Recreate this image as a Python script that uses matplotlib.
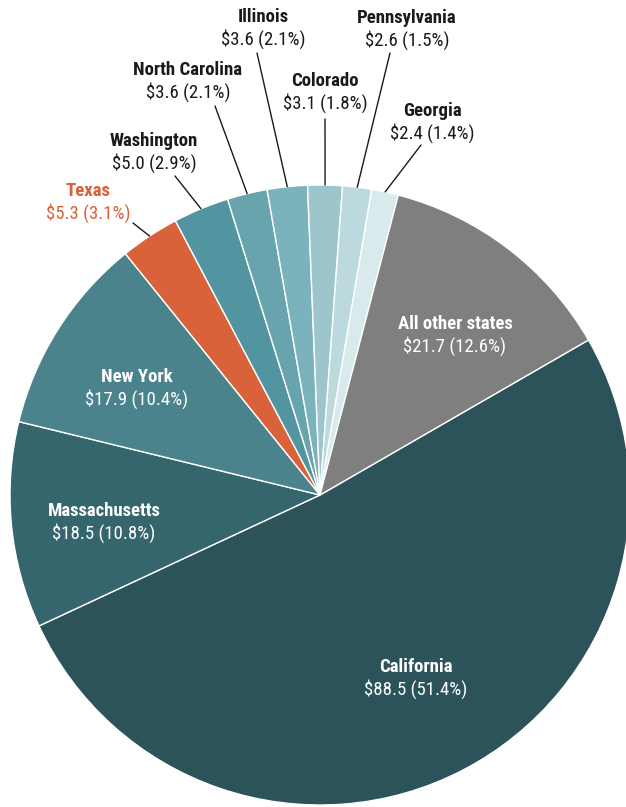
import matplotlib.pyplot as plt
from matplotlib import font_manager
import numpy as np

# Data (billions of dollars, share of total)
states = ['California', 'Massachusetts', 'New York', 'Texas', 'Washington',
          'North Carolina', 'Illinois', 'Colorado', 'Pennsylvania', 'Georgia',
          'All other states']
values = [88.5, 18.5, 17.9, 5.3, 5.0, 3.6, 3.6, 3.1, 2.6, 2.4, 21.7]
shares = [51.4, 10.8, 10.4, 3.1, 2.9, 2.1, 2.1, 1.8, 1.5, 1.4, 12.6]
colors = ['#2c535a', '#36666d', '#4a838b', '#d9623a', '#5294a0', '#68a4ae',
          '#7ab3bc', '#9cc6cc', '#bcdade', '#d9eaed', '#7f7f7f']

# pick a narrow font if there is one
installed = {f.name for f in font_manager.fontManager.ttflist}
family = 'Roboto'
for cand in ['Roboto Condensed', 'Liberation Sans Narrow', 'Roboto']:
    if cand in installed:
        family = cand
        break
plt.rcParams['font.family'] = [family, 'DejaVu Sans']

W, H = 626, 807
CX, CY, R = 320, 495, 310  # pie centre and radius in pixels


def px(x, y):
    # pixel position -> data position
    return (x - CX) / R, (CY - y) / R


fig = plt.figure(figsize=(W / 100, H / 100), dpi=100)
ax = fig.add_axes([0, 0, 1, 1])
wedges, _ = ax.pie(values, colors=colors, startangle=30, counterclock=False,
                   radius=1, wedgeprops=dict(edgecolor='white', linewidth=1))
ax.set_xlim(-CX / R, (W - CX) / R)
ax.set_ylim(-(H - CY) / R, CY / R)
ax.set_aspect('auto')
ax.axis('off')

# label positions (centre of name line, pixels), leader line start
inside = {
    'California': (416, 667),
    'Massachusetts': (104, 511),
    'New York': (137, 377),
    'All other states': (455, 324),
}
outside = {
    'Texas': ((88, 191), (133, 223)),
    'Washington': ((154, 141), (175, 176)),
    'North Carolina': ((188, 70), (215, 106)),
    'Illinois': ((263, 17), (257, 53)),
    'Colorado': ((325, 81), (325, 119)),
    'Pennsylvania': ((407, 18), (390, 53)),
    'Georgia': ((432, 111), (421, 145)),
}

fs = 13.5
for i, name in enumerate(states):
    val_txt = f'${values[i]:.1f} ({shares[i]:.1f}%)'
    if name in inside:
        x, y = inside[name]
        col = 'white'
    else:
        (x, y), start = outside[name]
        col = '#d9623a' if name == 'Texas' else '#1a1a1a'
        w = wedges[i]
        mid = np.deg2rad((w.theta1 + w.theta2) / 2)
        ax.annotate('', xy=(np.cos(mid), np.sin(mid)), xytext=px(*start),
                    arrowprops=dict(arrowstyle='-', color='#1a1a1a', lw=1,
                                    shrinkA=0, shrinkB=0))
    ax.text(*px(x, y), name, ha='center', va='center', fontsize=fs,
            fontweight='bold', color=col)
    ax.text(*px(x, y + 22), val_txt, ha='center', va='center', fontsize=fs,
            color=col)

fig.savefig('out.png', dpi=100)
